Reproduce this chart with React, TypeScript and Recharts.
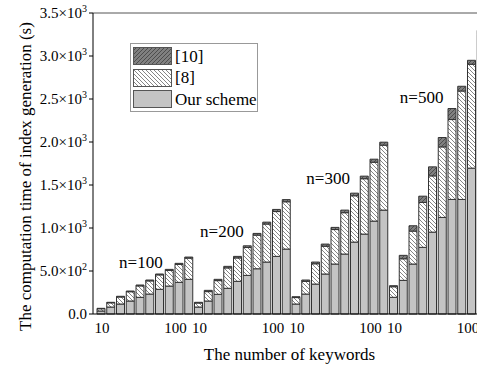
import { BarChart, Bar, XAxis, YAxis, ReferenceLine, ReferenceDot, Legend } from 'recharts'

const GROUPS = ['n=100', 'n=200', 'n=300', 'n=500']
const KEYWORDS = [10, 20, 30, 40, 50, 60, 70, 80, 90, 100]

// our scheme (bottom segment)
const oursN100 = [35, 81, 116, 151, 194, 232, 287, 325, 368, 403]
const oursN200 = [81, 151, 229, 299, 380, 449, 526, 604, 670, 755]
const oursN300 = [116, 232, 348, 465, 581, 697, 836, 929, 1080, 1208]
const oursN500 = [194, 391, 581, 775, 952, 1123, 1332, 1332, 1696, 1900]

// [8] segment stacked on top
const ref8N100 = [26, 49, 82, 108, 133, 153, 168, 182, 209, 247]
const ref8N200 = [47, 109, 159, 237, 272, 324, 391, 442, 521, 550]
const ref8N300 = [75, 148, 236, 323, 401, 481, 539, 644, 685, 755]
const ref8N500 = [123, 251, 383, 522, 654, 820, 929, 1261, 1208, 1348]

// [10] segment on the very top
const ref10N100 = [5, 6, 8, 8, 10, 10, 10, 12, 12, 12]
const ref10N200 = [8, 15, 15, 18, 18, 20, 20, 22, 25, 25]
const ref10N300 = [10, 15, 20, 25, 25, 30, 30, 30, 35, 35]
const ref10N500 = [12, 40, 62, 73, 105, 109, 128, 55, 46, 50]

const Y_TICKS = [0, 500, 1000, 1500, 2000, 2500, 3000, 3500]

const OURS = [oursN100, oursN200, oursN300, oursN500]
const REF8 = [ref8N100, ref8N200, ref8N300, ref8N500]
const REF10 = [ref10N100, ref10N200, ref10N300, ref10N500]

const data = GROUPS.flatMap((g, gi) =>
  KEYWORDS.map((k, ki) => ({
    id: `${g}-${k}`,
    ours: OURS[gi][ki],
    ref8: REF8[gi][ki],
    ref10: REF10[gi][ki],
  }))
)

const FONT = '"Liberation Serif", "Times New Roman", serif'
const GRAY = '#c4c4c4'

const LEGEND_ITEMS = [
  { name: '[10]', fill: 'url(#hatch10)' },
  { name: '[8]', fill: 'url(#hatch8)' },
  { name: 'Our scheme', fill: GRAY },
]

// annotation: group label, anchor bar, value, horizontal nudge
const ANNOTATIONS = [
  { text: 'n=100', bar: 'n=100-50', y: 600, shift: 1 },
  { text: 'n=200', bar: 'n=200-30', y: 960, shift: 4 },
  { text: 'n=300', bar: 'n=300-40', y: 1580, shift: 3 },
  { text: 'n=500', bar: 'n=500-40', y: 2520, shift: -1 },
]

function XTick({ x, y, payload }: any) {
  const k = Number(String(payload.value).split('-')[1])
  if (k !== 10 && k !== 100) return null
  return (
    <text
      x={k === 100 ? x - 2 : x + 1}
      y={y}
      dy="0.71em"
      textAnchor={k === 100 ? 'end' : 'middle'}
      fontSize={15}
      fontFamily={FONT}
      fill="#000"
    >
      {k}
    </text>
  )
}

function YTick({ x, y, payload }: any) {
  const v = payload.value as number
  if (v === 0) {
    return (
      <text x={x} y={y} dy="0.35em" textAnchor="end" fontSize={15} fontFamily={FONT} fill="#000">
        0.0
      </text>
    )
  }
  const e = Math.floor(Math.log10(v))
  const m = (v / Math.pow(10, e)).toFixed(1)
  return (
    <text x={x} y={y} dy="0.35em" textAnchor="end" fontSize={15} fontFamily={FONT} fill="#000">
      <tspan>{m}×10</tspan>
      <tspan dy={-6} fontSize={10}>{e}</tspan>
    </text>
  )
}

function YLabel({ viewBox }: any) {
  const cx = viewBox.x + 25
  const cy = viewBox.y + viewBox.height / 2 + 13
  return (
    <text
      x={cx}
      y={cy}
      transform={`rotate(-90 ${cx} ${cy})`}
      textAnchor="middle"
      dominantBaseline="central"
      fontSize={17}
      fontFamily={FONT}
      fill="#000"
    >
      The computation time of index generation (s)
    </text>
  )
}

function AnnoLabel({ viewBox, text, shift }: any) {
  const cx = viewBox.x + viewBox.width / 2 + shift
  const cy = viewBox.y + viewBox.height / 2
  return (
    <text x={cx} y={cy} textAnchor="middle" dominantBaseline="central" fontSize={17} fontFamily={FONT} fill="#000">
      {text}
    </text>
  )
}

function LegendBox() {
  return (
    <div
      style={{
        width: 128,
        height: 69,
        boxSizing: 'border-box',
        border: '1px solid #999',
        background: '#fff',
        padding: '2px 0 0 2px',
        fontFamily: FONT,
        fontSize: 17,
        lineHeight: '18px',
        whiteSpace: 'nowrap',
        overflow: 'visible',
      }}
    >
      {LEGEND_ITEMS.map(item => (
        <div key={item.name} style={{ display: 'flex', alignItems: 'center', height: 21.5 }}>
          <svg width={40} height={19} style={{ display: 'block', flexShrink: 0 }}>
            <rect x={0.5} y={0.5} width={38} height={17} fill={item.fill} stroke="#555" />
          </svg>
          <span style={{ marginLeft: 2, color: '#000' }}>{item.name}</span>
        </div>
      ))}
    </div>
  )
}

export default function App() {
  return (
    <div style={{ position: 'absolute', left: 0, top: 0, width: 477, height: 366, overflow: 'hidden', background: '#fff' }}>
      <svg width={0} height={0} style={{ position: 'absolute' }}>
        <defs>
          <pattern id="hatch8" patternUnits="userSpaceOnUse" width={4} height={4}>
            <rect width={4} height={4} fill="#fff" />
            <path d="M-1,-1 L5,5 M-1,3 L1,5 M3,-1 L5,1" stroke="#666" strokeWidth={0.8} />
          </pattern>
          <pattern id="hatch10" patternUnits="userSpaceOnUse" width={4} height={4}>
            <rect width={4} height={4} fill="#808080" />
            <path d="M-1,5 L5,-1 M-1,1 L1,-1 M3,5 L5,3" stroke="#474747" strokeWidth={0.9} />
          </pattern>
        </defs>
      </svg>
      <BarChart
        width={488}
        height={366}
        data={data}
        margin={{ top: 13, right: 2, bottom: 0, left: 0 }}
        barCategoryGap={1}
        style={{ fontFamily: FONT }}
      >
        <XAxis
          dataKey="id"
          interval={0}
          tickLine={false}
          axisLine={{ stroke: '#000' }}
          padding={{ left: 3, right: 0 }}
          height={52}
          tick={<XTick />}
          label={{ value: 'The number of keywords', position: 'insideBottom', offset: 6, fontSize: 17, fill: '#000', fontFamily: FONT }}
        />
        <YAxis
          domain={[0, 3500]}
          ticks={Y_TICKS}
          width={93}
          tickSize={4}
          tickMargin={2}
          axisLine={{ stroke: '#000' }}
          tickLine={{ stroke: '#000' }}
          tick={<YTick />}
          label={<YLabel />}
        />
        <ReferenceLine y={3500} stroke="#555" />
        <Legend
          layout="vertical"
          align="center"
          verticalAlign="middle"
          content={<LegendBox />}
          wrapperStyle={{ left: 130, top: 43, width: 128, height: 69 }}
        />
        <Bar dataKey="ours" name="Our scheme" stackId="a" fill={GRAY} stroke="#333" strokeWidth={1} isAnimationActive={false} />
        <Bar dataKey="ref8" name="[8]" stackId="a" fill="url(#hatch8)" stroke="#333" strokeWidth={1} isAnimationActive={false} />
        <Bar dataKey="ref10" name="[10]" stackId="a" fill="url(#hatch10)" stroke="#333" strokeWidth={1} isAnimationActive={false} />
        {ANNOTATIONS.map(a => (
          <ReferenceDot
            key={a.text}
            x={a.bar}
            y={a.y}
            r={0}
            fill="none"
            stroke="none"
            label={<AnnoLabel text={a.text} shift={a.shift} />}
          />
        ))}
      </BarChart>
    </div>
  )
}
